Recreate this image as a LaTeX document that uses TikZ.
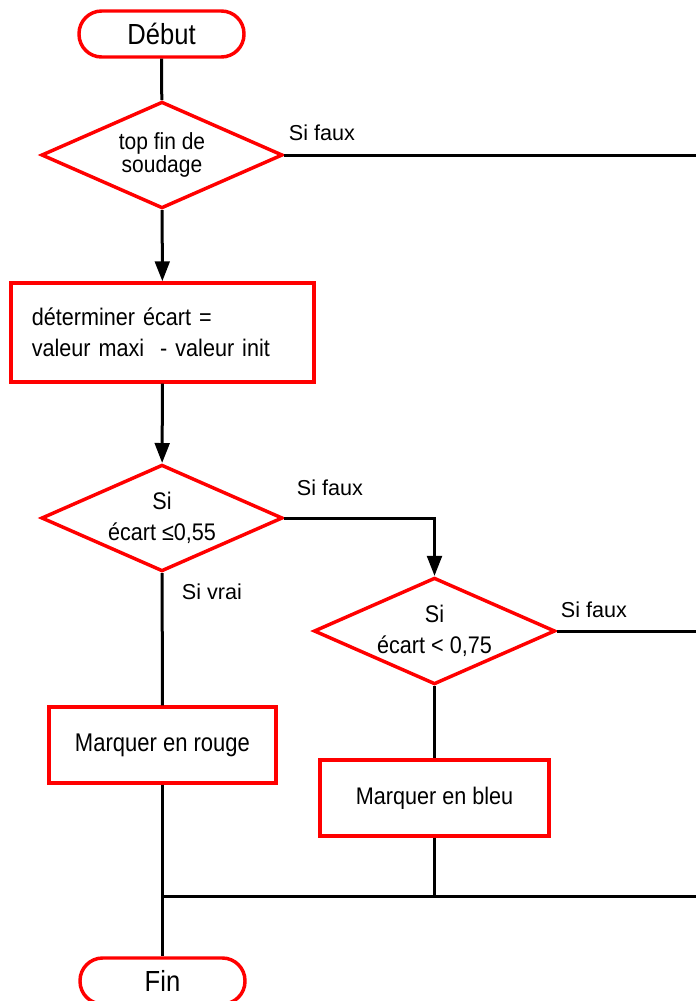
\documentclass[tikz,border=0pt]{standalone}
\usepackage{fontspec}
\setmainfont{Liberation Sans}
\newfontfamily\termfont{Liberation Sans}[FakeStretch=0.88]
\newfontfamily\boxfont{Liberation Sans}[FakeStretch=0.9]
\newfontfamily\rougefont{Liberation Sans}[FakeStretch=0.86]
\usetikzlibrary{shapes.geometric,arrows.meta}
\begin{document}
\begin{tikzpicture}[x=0.75pt,y=-0.75pt,
  term/.style={draw=red,line width=2.6pt,rectangle,rounded corners=17pt,minimum width=123.75pt,minimum height=34.5pt,inner sep=0pt,font=\termfont\fontsize{21.8}{24}\selectfont},
  dec/.style={draw=red,line width=2.6pt,diamond,shape aspect=2.3,minimum width=181pt,minimum height=80pt,inner sep=0pt,align=center,font=\boxfont\fontsize{18}{23}\selectfont},
  proc/.style={draw=red,line width=2.6pt,rectangle,inner sep=0pt,align=center,font=\boxfont\fontsize{18}{23.25}\selectfont},
  lab/.style={font=\fontsize{16.2}{18}\selectfont,inner sep=0pt},
  conn/.style={line width=2.25pt,black},
  arr/.style={conn,-{Triangle[length=15pt,width=11pt]}}]
\useasboundingbox (0,0) rectangle (696,1001);
\node[term] (start) at (161.5,34) {Début};
\node[dec,font=\boxfont\fontsize{17.5}{15.5}\selectfont] (d1) at (162,155) {top fin de\\soudage};
\node[proc,minimum width=227.25pt,minimum height=74.25pt,text width=196pt,align=left] (calc) at (162.5,332.5) {déterminer écart =\\valeur maxi\ \ - valeur init};
\node[dec] (d2) at (162,518) {Si\\écart ≤0,55};
\node[dec] (d3) at (434.5,631) {Si\\écart < 0,75};
\node[proc,minimum width=170.25pt,minimum height=57pt,font=\rougefont\fontsize{19.2}{23}\selectfont] (rouge) at (162.5,745) {Marquer en rouge};
\node[proc,minimum width=171.75pt,minimum height=57pt] (bleu) at (434.5,798) {Marquer en bleu};
\node[term] (fin) at (162.5,981) {Fin};
\coordinate (r1) at (700,155);
\coordinate (r2) at (700,631);
\coordinate (bus) at (162.5,896);
\coordinate (r3) at (700,896);
\node[lab] (l1) at (322,133) {Si faux};
\node[lab] (l2) at (330,488) {Si faux};
\node[lab] (l3) at (594,610) {Si faux};
\node[lab] (l4) at (212,592) {Si vrai};
\draw[conn] (start) -- (d1);
\draw[conn] (d1.east) -- (r1);
\draw[arr] (d1) -- (calc);
\draw[arr] (calc) -- (d2);
\draw[arr] (d2.east) -| (d3.north);
\draw[conn] (d3.east) -- (r2);
\draw[conn] (d2) -- (rouge);
\draw[conn] (d3) -- (bleu);
\draw[conn] (rouge) -- (fin);
\draw[conn] (bleu.south) -- (bleu.south |- bus);
\draw[conn] (bus) -- (r3);
\end{tikzpicture}
\end{document}
